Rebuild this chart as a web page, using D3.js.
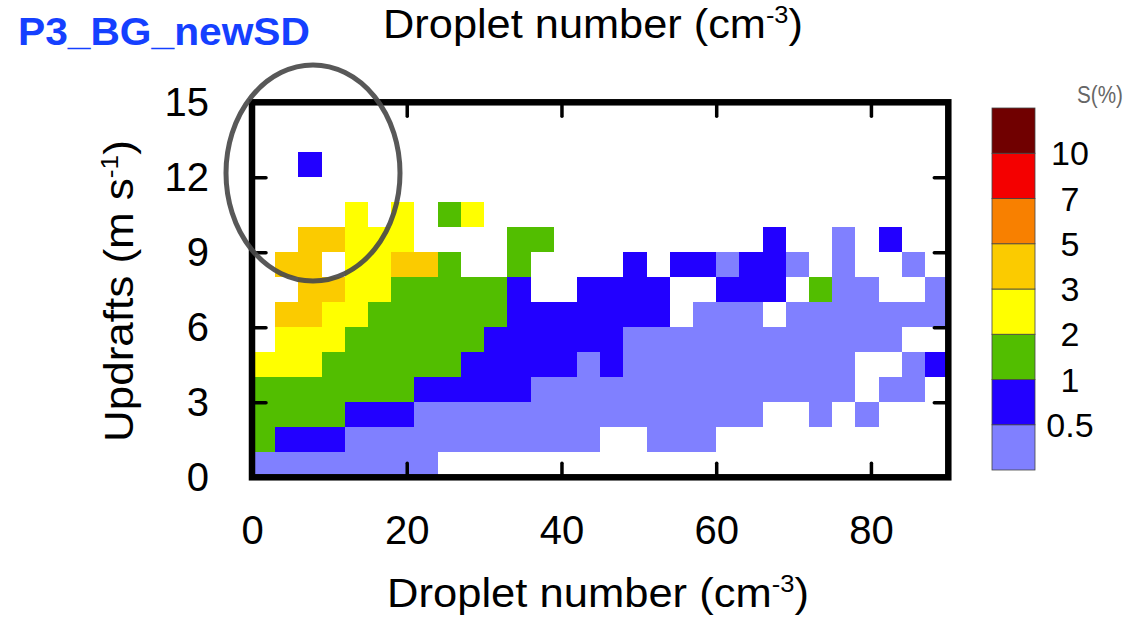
<!DOCTYPE html>
<html><head><meta charset="utf-8">
<script src="https://cdn.jsdelivr.net/npm/d3@7"></script>
<style>
body{margin:0;background:#fff}
svg{display:block}
text{font-family:"Liberation Sans",Arial,Helvetica,sans-serif;fill:#000}
</style>
</head><body>
<svg id="chart" width="1135" height="621"></svg>
<script>
const _ = null;
// droplet-number bins (cm^-3), lower edges, width 3
const dropletBins = [0,3,6,9,12,15,18,21,24,27,30,33,36,39,42,45,48,51,54,57,60,63,66,69,72,75,78,81,84,87];
const dropletBinWidth = 3;
// updraft bins (m/s), lower edges, width 1
const updraftBins = [0,1,2,3,4,5,6,7,8,9,10,11,12,13,14];
const updraftBinWidth = 1;
// supersaturation S(%) per cell, row = updraft bin, column = droplet bin (representative values of each class)
const supersat = [
  [0.3,0.3,0.3,0.3,0.3,0.3,0.3,0.3,_,_,_,_,_,_,_,_,_,_,_,_,_,_,_,_,_,_,_,_,_,_],
  [1.5,0.8,0.8,0.8,0.3,0.3,0.3,0.3,0.3,0.3,0.3,0.3,0.3,0.3,0.3,_,_,0.3,0.3,0.3,_,_,_,_,_,_,_,_,_,_],
  [1.5,1.5,1.5,1.5,0.8,0.8,0.8,0.3,0.3,0.3,0.3,0.3,0.3,0.3,0.3,0.3,0.3,0.3,0.3,0.3,0.3,0.3,_,_,0.3,_,0.3,_,_,_],
  [1.5,1.5,1.5,1.5,1.5,1.5,1.5,0.8,0.8,0.8,0.8,0.8,0.3,0.3,0.3,0.3,0.3,0.3,0.3,0.3,0.3,0.3,0.3,0.3,0.3,0.3,_,0.3,0.3,_],
  [2.5,2.5,2.5,1.5,1.5,1.5,1.5,1.5,1.5,0.8,0.8,0.8,0.8,0.8,0.3,0.8,0.3,0.3,0.3,0.3,0.3,0.3,0.3,0.3,0.3,0.3,_,_,0.3,0.8],
  [_,2.5,2.5,2.5,1.5,1.5,1.5,1.5,1.5,1.5,0.8,0.8,0.8,0.8,0.8,0.8,0.3,0.3,0.3,0.3,0.3,0.3,0.3,0.3,0.3,0.3,0.3,0.3,_,_],
  [_,4,4,2.5,2.5,1.5,1.5,1.5,1.5,1.5,1.5,0.8,0.8,0.8,0.8,0.8,0.8,0.8,_,0.3,0.3,0.3,_,0.3,0.3,0.3,0.3,0.3,0.3,0.3],
  [_,_,4,4,2.5,2.5,1.5,1.5,1.5,1.5,1.5,0.8,_,_,0.8,0.8,0.8,0.8,_,_,0.8,0.8,0.8,_,1.5,0.3,0.3,_,_,0.3],
  [_,4,4,_,2.5,2.5,4,4,1.5,_,_,1.5,_,_,_,_,0.8,_,0.8,0.8,0.3,0.8,0.8,0.3,_,0.3,_,_,0.3,_],
  [_,_,4,4,2.5,2.5,2.5,_,_,_,_,1.5,1.5,_,_,_,_,_,_,_,_,_,0.8,_,_,0.3,_,0.8,_,_],
  [_,_,_,_,2.5,_,2.5,_,1.5,2.5,_,_,_,_,_,_,_,_,_,_,_,_,_,_,_,_,_,_,_,_],
  [_,_,_,_,_,_,_,_,_,_,_,_,_,_,_,_,_,_,_,_,_,_,_,_,_,_,_,_,_,_],
  [_,_,0.8,_,_,_,_,_,_,_,_,_,_,_,_,_,_,_,_,_,_,_,_,_,_,_,_,_,_,_],
  [_,_,_,_,_,_,_,_,_,_,_,_,_,_,_,_,_,_,_,_,_,_,_,_,_,_,_,_,_,_],
  [_,_,_,_,_,_,_,_,_,_,_,_,_,_,_,_,_,_,_,_,_,_,_,_,_,_,_,_,_,_]
];
const sThresholds = [0.5,1,2,3,5,7,10];
const sLabels = ["0.5","1","2","3","5","7","10"];
const sColors = ["#8080ff","#2200ff","#52be00","#ffff00","#fbcb00","#f88000","#f40000","#700000"];
const xTicks = [0,20,40,60,80];
const yTicks = [0,3,6,9,12,15];

const svg = d3.select("#chart");
svg.append("rect").attr("width",1135).attr("height",621).attr("fill","#fff");

const x = d3.scaleLinear().domain([0,90]).range([252,948.3]);
const y = d3.scaleLinear().domain([0,15]).range([477.3,102.3]);
const color = d3.scaleThreshold().domain(sThresholds).range(sColors);

// cells
const cells = [];
supersat.forEach((row,r)=>row.forEach((v,c)=>{ if(v!==null) cells.push({n:dropletBins[c], w:updraftBins[r], v}); }));
svg.append("g").attr("shape-rendering","crispEdges")
  .selectAll("rect").data(cells).join("rect")
  .attr("x",d=>x(d.n)).attr("y",d=>y(d.w+updraftBinWidth))
  .attr("width",d=>x(d.n+dropletBinWidth)-x(d.n))
  .attr("height",d=>y(d.w)-y(d.w+updraftBinWidth))
  .attr("fill",d=>color(d.v));

// axes
function styleAxis(g){
  g.select(".domain").remove();
  g.selectAll(".tick line").attr("stroke","#000").attr("stroke-width",3.5).attr("stroke-linecap","round");
  g.selectAll(".tick text").attr("font-size",40).attr("fill","#000").attr("font-family",'"Liberation Sans",Arial,sans-serif');
}
svg.append("g").attr("transform",`translate(0,${y(0)})`)
  .call(d3.axisBottom(x).tickValues(xTicks).tickSize(-14).tickPadding(38).tickFormat(d3.format("d"))).call(styleAxis);
svg.append("g").attr("transform",`translate(0,${y(15)})`)
  .call(d3.axisTop(x).tickValues(xTicks).tickSize(-14).tickFormat("")).call(styleAxis);
svg.append("g").attr("transform",`translate(${x(0)},0)`)
  .call(d3.axisLeft(y).tickValues(yTicks).tickSize(-14).tickPadding(43).tickFormat(d3.format("d"))).call(styleAxis);
svg.append("g").attr("transform",`translate(${x(90)},0)`)
  .call(d3.axisRight(y).tickValues(yTicks).tickSize(-14).tickFormat("")).call(styleAxis);

// frame
svg.append("rect").attr("x",x(0)).attr("y",y(15)).attr("width",x(90)-x(0)).attr("height",y(0)-y(15))
  .attr("fill","none").attr("stroke","#000").attr("stroke-width",6.5);

function fitWidth(t, target, cx){
  const w = t.node().getBBox().width;
  const k = target / w;
  t.attr("transform",`translate(${cx},0) scale(${k},1) translate(${-cx},0)`);
}
function titleWithSup(parent, base, sup, px, fs){
  const t = parent.append("text").attr("x",px).attr("text-anchor","middle").attr("font-size",fs);
  t.append("tspan").text(base);
  t.append("tspan").attr("font-size",24).attr("dy",-15).text(sup);
  t.append("tspan").attr("dy",15).text(")");
  return t;
}
// top x title
const tTop = titleWithSup(svg, "Droplet number (cm", "-3", 593, 41).attr("y",38);
fitWidth(tTop, 420, 593);
// bottom x title
const tBot = titleWithSup(svg, "Droplet number (cm", "-3", 598, 41).attr("y",607);
fitWidth(tBot, 422, 598);
// y title
const gy = svg.append("g").attr("transform","translate(133,291) rotate(-90)");
const tY = titleWithSup(gy, "Updrafts (m s", "-1", 0, 40).attr("y",0);
fitWidth(tY, 302, 0);

// plot label
const tLab = svg.append("text").attr("x",18).attr("y",45)
  .attr("font-family",'"Open Sans",sans-serif').attr("font-weight","bold").attr("font-size",38)
  .style("fill","#1540ff").text("P3_BG_newSD");
fitWidth(tLab, 292, 18);

// legend
const ly = d3.scaleBand().domain(d3.range(sColors.length)).range([470,108]).paddingInner(0).paddingOuter(0);
const lg = svg.append("g");
lg.selectAll("rect").data(sColors).join("rect")
  .attr("x",992).attr("width",43)
  .attr("y",(d,i)=>ly(i)).attr("height",ly.bandwidth())
  .attr("fill",d=>d).attr("stroke","#444").attr("stroke-width",0.8);
lg.selectAll("text.lab").data(sLabels).join("text").attr("class","lab")
  .attr("x",1070).attr("y",(d,i)=>ly(i)).attr("dy","0.36em")
  .attr("text-anchor","middle").attr("font-size",34).text(d=>d);
const tS = svg.append("text").attr("x",1077).attr("y",103)
  .attr("font-family",'"Open Sans",sans-serif').attr("font-size",24).style("fill","#666").text("S(%)");
fitWidth(tS, 46, 1077);

// highlight ellipse
svg.append("ellipse").attr("cx",313).attr("cy",173).attr("rx",87).attr("ry",108)
  .attr("fill","none").attr("stroke","#4a4a4a").attr("stroke-opacity",0.92).attr("stroke-width",5);
</script>
</body></html>
